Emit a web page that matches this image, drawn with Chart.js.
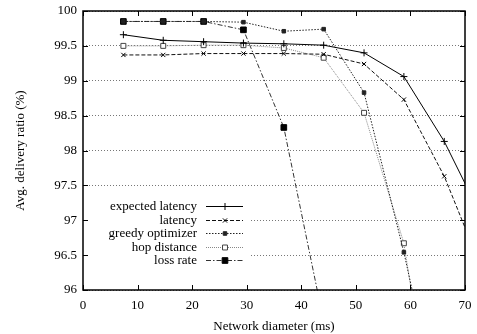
<!DOCTYPE html>
<html>
<head>
<meta charset="utf-8">
<script src="https://cdn.jsdelivr.net/npm/chart.js@4/dist/chart.umd.min.js"></script>
<style>
  html, body { margin: 0; padding: 0; background: #fff; }
  #wrap { width: 477px; height: 334px; }
</style>
</head>
<body>
<div id="wrap"><canvas id="chart"></canvas></div>
<script>
// network diameter (ms)
const diameters = [7.4, 14.7, 22.1, 29.4, 36.8, 44.1, 51.5, 58.8, 66.2, 73.6];

// avg. delivery ratio (%)
const expectedLatency = [99.66, 99.58, 99.56, 99.54, 99.53, 99.51, 99.40, 99.06, 98.13, 96.96];
const latency = [99.37, 99.37, 99.39, 99.39, 99.39, 99.38, 99.24, 98.73, 97.63, 96.20];
const greedyOptimizer = [99.85, 99.85, 99.85, 99.84, 99.71, 99.74, 98.83, 96.54, 93.90];
const hopDistance = [99.50, 99.50, 99.51, 99.51, 99.47, 99.33, 98.54, 96.67, 93.00];
const lossRate = [99.85, 99.85, 99.85, 99.73, 98.33, 95.55];

const xTicks = [0, 10, 20, 30, 40, 50, 60, 70];
const yTickLabels = ["96", "96.5", "97", "97.5", "98", "98.5", "99", "99.5", "100"];

const FONT = "'Liberation Serif', 'Times New Roman', serif";

function pts(ys) {
  return ys.map((y, i) => ({ x: diameters[i], y: y }));
}

const datasets = [
  { label: "expected latency", data: pts(expectedLatency), borderColor: "#000", borderWidth: 1,
    pointStyle: "cross", pointRadius: 3.5, pointBorderColor: "#000", pointBorderWidth: 1 },
  { label: "latency", data: pts(latency), borderColor: "#111", borderWidth: 1, borderDash: [4, 2],
    pointStyle: "crossRot", pointRadius: 3, pointBorderColor: "#000", pointBorderWidth: 1 },
  { label: "greedy optimizer", data: pts(greedyOptimizer), borderColor: "#222", borderWidth: 1, borderDash: [1.5, 1.5],
    pointStyle: "rect", pointRadius: 2.5, pointBackgroundColor: "#222", pointBorderColor: "#222", pointBorderWidth: 1 },
  { label: "hop distance", data: pts(hopDistance), borderColor: "#888", borderWidth: 1, borderDash: [1, 1],
    pointStyle: "rect", pointRadius: 3.5, pointBackgroundColor: "#fff", pointBorderColor: "#444", pointBorderWidth: 1 },
  { label: "loss rate", data: pts(lossRate), borderColor: "#333", borderWidth: 1, borderDash: [5, 2, 1.5, 2],
    pointStyle: "rect", pointRadius: 4, pointBackgroundColor: "#000", pointBorderColor: "#000", pointBorderWidth: 1 }
];

// frame, inward ticks and the key, gnuplot style
const gnuplotLook = {
  id: "gnuplotLook",
  beforeDatasetsDraw(chart) {
    // white box under the key, covering the grid
    const ctx = chart.ctx;
    ctx.save();
    ctx.fillStyle = "#fff";
    ctx.fillRect(chart.chartArea.left + 1, 196, 250 - chart.chartArea.left, 73);
    ctx.restore();
  },
  afterDraw(chart) {
    const ctx = chart.ctx;
    const a = chart.chartArea;
    ctx.save();
    ctx.strokeStyle = "#000";
    ctx.lineWidth = 1.5;
    ctx.setLineDash([]);
    ctx.strokeRect(a.left, a.top, a.right - a.left, a.bottom - a.top);

    ctx.lineWidth = 1;
    const xs = chart.scales.x, ys = chart.scales.y;
    xTicks.forEach(v => {
      const p = Math.round(xs.getPixelForValue(v)) + 0.5;
      ctx.beginPath();
      ctx.moveTo(p, a.bottom); ctx.lineTo(p, a.bottom - 5);
      ctx.moveTo(p, a.top); ctx.lineTo(p, a.top + 5);
      ctx.stroke();
    });
    yTickLabels.forEach(t => {
      const p = Math.round(ys.getPixelForValue(parseFloat(t))) + 0.5;
      ctx.beginPath();
      ctx.moveTo(a.left, p); ctx.lineTo(a.left + 5, p);
      ctx.moveTo(a.right, p); ctx.lineTo(a.right - 5, p);
      ctx.stroke();
    });

    ctx.font = "13px " + FONT;
    ctx.textAlign = "right";
    ctx.textBaseline = "middle";
    chart.data.datasets.forEach((ds, i) => {
      const y = Math.round(206 + i * 13.6) + 0.5;
      ctx.fillStyle = "#000";
      ctx.fillText(ds.label, 197, y);
      ctx.strokeStyle = ds.borderColor;
      ctx.lineWidth = 1;
      ctx.setLineDash(ds.borderDash || []);
      ctx.beginPath();
      ctx.moveTo(206, y);
      ctx.lineTo(243, y);
      ctx.stroke();
      ctx.setLineDash([]);
      ctx.fillStyle = ds.pointBackgroundColor || "#000";
      ctx.strokeStyle = ds.pointBorderColor || "#000";
      Chart.helpers.drawPoint(ctx, {
        pointStyle: ds.pointStyle, radius: ds.pointRadius, borderWidth: ds.pointBorderWidth, rotation: 0
      }, 225, y);
    });
    ctx.restore();
  }
};

new Chart(document.getElementById("chart"), {
  type: "line",
  data: { datasets: datasets },
  plugins: [gnuplotLook],
  options: {
    responsive: true,
    maintainAspectRatio: false,
    animation: false,
    events: [],
    layout: { padding: { top: 11, right: 12, left: 13, bottom: 0 } },
    plugins: { legend: { display: false }, tooltip: { enabled: false } },
    scales: {
      x: {
        type: "linear",
        min: 0, max: 70,
        afterBuildTicks: s => { s.ticks = xTicks.map(v => ({ value: v })); },
        afterFit: s => { s.height = 44; s.paddingLeft = 0; s.paddingRight = 0; },
        grid: { display: false, drawTicks: false },
        border: { display: false },
        ticks: { color: "#000", padding: 8, font: { family: FONT, size: 13 }, maxRotation: 0 },
        title: { display: true, text: "Network diameter (ms)", color: "#000", padding: 0,
                 font: { family: FONT, size: 13 } }
      },
      y: {
        min: 96, max: 100,
        afterBuildTicks: s => { s.ticks = yTickLabels.map(t => ({ value: parseFloat(t) })); },
        afterFit: s => { s.width = 70; s.paddingTop = 0; s.paddingBottom = 0; },
        grid: { color: "#777", lineWidth: 1, drawTicks: false },
        border: { display: false, dash: [1, 2] },
        ticks: { color: "#000", padding: 6, font: { family: FONT, size: 13 },
                 callback: (v) => yTickLabels.find(t => parseFloat(t) === v) },
        title: { display: true, text: "Avg. delivery ratio (%)", color: "#000", padding: 0,
                 font: { family: FONT, size: 13 } }
      }
    }
  }
});
</script>
</body>
</html>
